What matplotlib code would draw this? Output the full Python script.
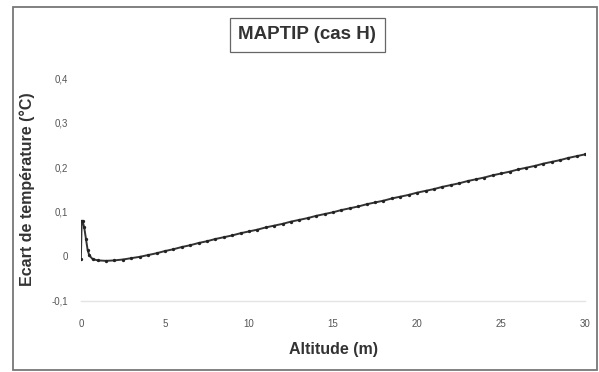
import matplotlib
matplotlib.use("Agg")
import matplotlib.pyplot as plt
from matplotlib.patches import Rectangle

plt.rcParams['font.family'] = ['Liberation Sans', 'DejaVu Sans']

# data
altitude = [0, 0.05, 0.1, 0.2, 0.3, 0.4, 0.5, 0.7, 1.0, 1.5, 2.0, 2.5, 3.0, 3.5,
            4.0, 4.5, 5.0, 5.5, 6.0, 6.5, 7.0, 7.5, 8.0, 8.5, 9.0, 9.5, 10.0,
            10.5, 11.0, 11.5, 12.0, 12.5, 13.0, 13.5, 14.0, 14.5, 15.0, 15.5,
            16.0, 16.5, 17.0, 17.5, 18.0, 18.5, 19.0, 19.5, 20.0, 20.5, 21.0,
            21.5, 22.0, 22.5, 23.0, 23.5, 24.0, 24.5, 25.0, 25.5, 26.0, 26.5,
            27.0, 27.5, 28.0, 28.5, 29.0, 29.5, 30.0]
ecart = [-0.005, 0.080, 0.079, 0.065, 0.040, 0.015, 0.002, -0.006, -0.009,
         -0.010, -0.009, -0.007, -0.004, -0.001, 0.003, 0.007, 0.012, 0.016,
         0.021, 0.025, 0.030, 0.034, 0.039, 0.043, 0.047, 0.052, 0.056,
         0.060, 0.065, 0.069, 0.073, 0.078, 0.082, 0.086, 0.091, 0.095,
         0.099, 0.104, 0.108, 0.112, 0.117, 0.121, 0.125, 0.130, 0.134,
         0.138, 0.143, 0.147, 0.151, 0.156, 0.160, 0.164, 0.169, 0.173,
         0.177, 0.182, 0.186, 0.190, 0.195, 0.199, 0.203, 0.208, 0.212,
         0.216, 0.221, 0.225, 0.229]

xticks = [0, 5, 10, 15, 20, 25, 30]
yticks = [-0.1, 0, 0.1, 0.2, 0.3, 0.4]
ylabels = ['-0,1', '0', '0,1', '0,2', '0,3', '0,4']

fig = plt.figure(figsize=(5.99, 3.72), dpi=100)
ax = fig.add_axes([0.135, 0.191, 0.842, 0.599])

ax.plot(altitude, ecart, color='#333333', linewidth=1.4, marker='o',
        markersize=2.4, markerfacecolor='#222222', markeredgewidth=0)

ax.set_xlim(0, 30)
ax.set_ylim(-0.1, 0.4)
ax.set_xticks(xticks)
ax.set_yticks(yticks)
ax.set_yticklabels(ylabels)
ax.tick_params(length=0, labelsize=7, labelcolor='#555555')
ax.tick_params(axis='x', pad=13)
ax.tick_params(axis='y', pad=9)

for s in ['top', 'right', 'left']:
    ax.spines[s].set_visible(False)
ax.spines['bottom'].set_color('#e4e4e4')
ax.spines['bottom'].set_linewidth(1.0)

ax.set_xlabel('Altitude (m)', fontsize=11.5, fontweight='bold', color='#333333',
              labelpad=9)
ax.set_ylabel('Ecart de température (°C)', fontsize=11.5, fontweight='bold',
              color='#333333', labelpad=12)

# outer frame
fig.patches.append(Rectangle((13 / 599, 2 / 372), 584 / 599, 363 / 372,
                             transform=fig.transFigure, fill=False,
                             edgecolor='#777777', linewidth=1.3))

fig.text(0.513, 0.906, 'MAPTIP (cas H)', fontsize=13.5, fontweight='bold',
         color='#333333', ha='center', va='center',
         bbox=dict(boxstyle='square,pad=0.45', facecolor='white',
                   edgecolor='#666666', linewidth=0.9))

fig.savefig('out.png', dpi=100)
